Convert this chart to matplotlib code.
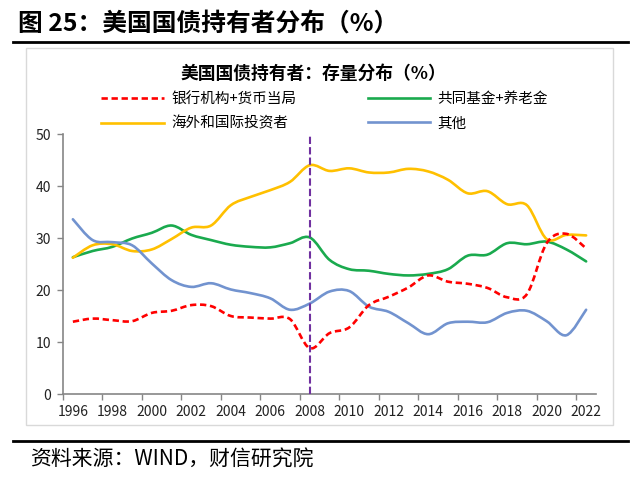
import matplotlib
matplotlib.use("Agg")
import matplotlib.pyplot as plt
from matplotlib.path import Path
from matplotlib.patches import PathPatch, Rectangle
from matplotlib.lines import Line2D
import numpy as np

plt.rcParams['font.family'] = ['Noto Sans CJK SC', 'DejaVu Sans']

years = list(range(1996, 2023))
year_labels = [str(y) for y in years[::2]]

bank = [13.9, 14.5, 14.2, 14.0, 15.6, 16.0, 17.1, 16.9, 15.0, 14.7, 14.5, 14.4, 8.8,
        11.7, 12.8, 17.1, 18.7, 20.5, 22.8, 21.6, 21.2, 20.4, 18.6, 19.2, 29.0, 30.8, 28.0]
foreign = [26.2, 28.6, 28.8, 27.5, 27.8, 29.8, 32.0, 32.4, 36.3, 37.9, 39.2, 40.8, 44.0,
           42.9, 43.4, 42.6, 42.6, 43.3, 42.8, 41.2, 38.6, 39.0, 36.5, 36.3, 29.8, 30.6, 30.5]
funds = [26.3, 27.5, 28.3, 29.9, 31.0, 32.4, 30.6, 29.6, 28.7, 28.3, 28.2, 29.0, 30.1,
         25.8, 24.0, 23.7, 23.1, 22.8, 23.1, 24.0, 26.6, 26.8, 29.0, 28.8, 29.3, 27.8, 25.5]
other = [33.6, 29.6, 29.2, 28.6, 25.1, 21.9, 20.6, 21.3, 20.1, 19.4, 18.4, 16.2, 17.4,
         19.7, 19.8, 16.8, 15.8, 13.6, 11.5, 13.6, 13.9, 13.8, 15.6, 16.0, 14.0, 11.3, 16.2]

series_names = ['银行机构+货币当局', '海外和国际投资者', '共同基金+养老金', '其他']
marker_year = 2008

c_red = '#FF0000'
c_yel = '#FFC000'
c_grn = '#1AAA4E'
c_blu = '#7293CF'
c_pur = '#7030A0'


def smooth_path(x, y):
    n = len(x)
    verts = [(x[0], y[0])]
    codes = [Path.MOVETO]
    for i in range(n - 1):
        i0 = max(i - 1, 0)
        i3 = min(i + 2, n - 1)
        c1 = (x[i] + (x[i + 1] - x[i0]) / 6.0, y[i] + (y[i + 1] - y[i0]) / 6.0)
        c2 = (x[i + 1] - (x[i3] - x[i]) / 6.0, y[i + 1] - (y[i3] - y[i]) / 6.0)
        verts += [c1, c2, (x[i + 1], y[i + 1])]
        codes += [Path.CURVE4] * 3
    return Path(verts, codes)


fig = plt.figure(figsize=(6.4, 4.78), dpi=100)
W, H = 640, 478

# frame
fig.patches.append(Rectangle((26 / W, 1 - 425 / H), (613 - 26) / W, (425 - 48) / H,
                             transform=fig.transFigure, fill=False, ec='#D9D9D9', lw=1.0))
# header lines
fig.add_artist(Line2D([12.5 / W, 628 / W], [1 - 42.3 / H] * 2, color='black', lw=2.0,
                      transform=fig.transFigure))
fig.add_artist(Line2D([12.5 / W, 628 / W], [1 - 440.5 / H] * 2, color='black', lw=2.0,
                      transform=fig.transFigure))

fig.text(18 / W, 1 - 24 / H, '图 25：美国国债持有者分布（%）', fontsize=17.8, fontweight='bold',
         ha='left', va='center', color='black')
fig.text(30 / W, 1 - 460 / H, '资料来源：WIND，财信研究院', fontsize=15, style='italic',
         ha='left', va='center', color='black')

fig.text(313 / W, 1 - 74 / H, '美国国债持有者：存量分布（%）', fontsize=12.8, fontweight='bold',
         ha='center', va='center', color='black')

ax = fig.add_axes([63 / W, 1 - 394 / H, (596 - 63) / W, (394 - 134) / H])
xs = np.arange(len(years), dtype=float)

lw = 1.9
ax.add_patch(PathPatch(smooth_path(xs, funds), fill=False, ec=c_grn, lw=lw, capstyle='round', zorder=3))
ax.add_patch(PathPatch(smooth_path(xs, foreign), fill=False, ec=c_yel, lw=lw, capstyle='round', zorder=3))
ax.add_patch(PathPatch(smooth_path(xs, other), fill=False, ec=c_blu, lw=lw, capstyle='round', zorder=3))
ax.add_patch(PathPatch(smooth_path(xs, bank), fill=False, ec=c_red, lw=lw, ls=(0, (2.4, 1.4)), zorder=4))

ax.axvline(years.index(marker_year), ymin=0, ymax=1, color=c_pur, lw=1.5, ls=(0, (3.5, 1.5)), zorder=5)

ax.set_xlim(-0.5, len(years) - 0.5)
ax.set_ylim(0, 50)
ax.set_yticks(range(0, 51, 10))
ax.set_xticks(np.arange(-0.5, len(years) - 0.5, 2))
ax.set_xticklabels([])
ax.set_xticks(xs[::2], minor=True)
ax.set_xticklabels(year_labels, minor=True)
ax.tick_params(axis='x', which='minor', length=0, pad=8, labelsize=10, labelcolor='#222222')
ax.tick_params(axis='x', which='major', length=4.5, width=1, color='#868686', direction='out')
ax.tick_params(axis='y', length=4.5, width=1, color='#868686', direction='out', labelsize=10,
               labelcolor='#222222', pad=4)
for s in ['top', 'right']:
    ax.spines[s].set_visible(False)
for s in ['left', 'bottom']:
    ax.spines[s].set_color('#868686')
    ax.spines[s].set_linewidth(1.2)
ax.patch.set_alpha(0)

handles = [Line2D([], [], color=c_red, lw=lw, ls=(0, (2.4, 1.4))),
           Line2D([], [], color=c_yel, lw=lw),
           Line2D([], [], color=c_grn, lw=lw),
           Line2D([], [], color=c_blu, lw=lw)]
fig.legend(handles, series_names, ncol=2, frameon=False, loc='center left',
           bbox_to_anchor=(101 / W, 1 - 111.5 / H), borderpad=0, borderaxespad=0,
           handlelength=4.3, handletextpad=0.5, columnspacing=4.9, labelspacing=0.7,
           fontsize=10.5)

fig.savefig('out.png', dpi=100)
